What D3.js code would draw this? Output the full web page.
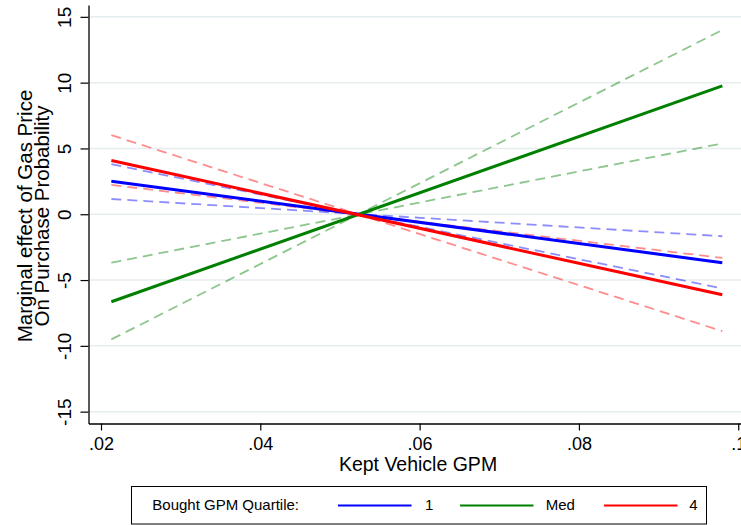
<!DOCTYPE html>
<html><head><meta charset="utf-8">
<script src="https://cdn.jsdelivr.net/npm/d3@7"></script>
<style>
body{margin:0;background:#fff}
svg{display:block}
text{font-family:"Liberation Sans",Arial,Helvetica,sans-serif;fill:#000}
</style>
</head><body>
<svg id="c" width="741" height="525"></svg>
<script>
// ---- data ----
const xValues = [0.0213, 0.098];
const seriesLabels = ["1", "Med", "4"];
const seriesColors = ["#0000ff", "#008000", "#ff0000"];
const estimate = [[2.51, -3.68], [-6.65, 9.76], [4.08, -6.12]];
const ciBoundA = [[3.80, -5.63], [-9.51, 14.0], [6.01, -8.88]];
const ciBoundB = [[1.16, -1.67], [-3.68, 5.38], [2.23, -3.32]];
const xTicks = [0.02, 0.04, 0.06, 0.08, 0.1];
const xTickLabels = [".02", ".04", ".06", ".08", ".1"];
const yTicks = [-15, -10, -5, 0, 5, 10, 15];
const yTickLabels = ["-15", "-10", "-5", "0", "5", "10", "15"];
const xTitle = "Kept Vehicle GPM";
const yTitleLines = ["Marginal effect of Gas Price", "On Purchase Probability"];
const legendTitle = "Bought GPM Quartile:";

// ---- drawing ----
const svg = d3.select("#c");
const x = d3.scaleLinear().domain([0.01843, 0.104]).range([88.5, 770.1]);
const y = d3.scaleLinear().domain([-15.9, 15.9]).range([423.5, 5]);

// gridlines
svg.append("g").selectAll("line").data(yTicks).join("line")
  .attr("x1", x.range()[0]).attr("x2", x.range()[1])
  .attr("y1", d => y(d)).attr("y2", d => y(d))
  .attr("stroke", "#e6edf0").attr("stroke-width", 1.5);

const line = d3.line().x((d, i) => x(xValues[i])).y(d => y(d));

// confidence bounds (dashed)
seriesLabels.forEach((s, k) => {
  [ciBoundA[k], ciBoundB[k]].forEach(vals => {
    svg.append("path").attr("d", line(vals))
      .attr("fill", "none").attr("stroke", seriesColors[k])
      .attr("stroke-opacity", 0.45).attr("stroke-width", 1.8)
      .attr("stroke-dasharray", "10,6");
  });
});
// estimates (solid)
seriesLabels.forEach((s, k) => {
  svg.append("path").attr("d", line(estimate[k]))
    .attr("fill", "none").attr("stroke", seriesColors[k])
    .attr("stroke-width", 3);
});

// x axis
const gx = svg.append("g").attr("transform", `translate(0,${y.range()[0]})`)
  .call(d3.axisBottom(x).tickValues(xTicks).tickFormat((d, i) => xTickLabels[i])
    .tickSize(7).tickSizeOuter(0));
gx.select(".domain").attr("stroke", "#000").attr("stroke-width", 1.3);
gx.selectAll(".tick line").attr("stroke", "#000").attr("stroke-width", 1.2);
gx.selectAll(".tick text").attr("y", 26.5).attr("dy", 0)
  .style("font-size", "18px").attr("font-family", null);

// y axis
const gy = svg.append("g").attr("transform", `translate(${x.range()[0]},0)`)
  .call(d3.axisLeft(y).tickValues(yTicks).tickFormat((d, i) => yTickLabels[i])
    .tickSize(8).tickSizeOuter(0));
gy.select(".domain").attr("stroke", "#000").attr("stroke-width", 1.3);
gy.selectAll(".tick line").attr("stroke", "#000").attr("stroke-width", 1.2);
gy.selectAll(".tick text").attr("x", 0).attr("y", -17.5).attr("dy", 0)
  .attr("transform", "rotate(-90)").attr("text-anchor", "middle")
  .style("font-size", "19px").attr("font-family", null);
svg.selectAll(".tick text").attr("fill", "#000");

// titles
svg.append("text").attr("x", 418).attr("y", 471).attr("text-anchor", "middle")
  .style("font-size", "19.5px").text(xTitle);
yTitleLines.forEach((t, i) => {
  svg.append("text").attr("transform", `translate(${31.7 + i * 16.8},216) rotate(-90)`)
    .attr("text-anchor", "middle").style("font-size", "20.5px").text(t);
});

// legend
const lg = svg.append("g");
lg.append("rect").attr("x", 131.5).attr("y", 486.5).attr("width", 575).attr("height", 37.5)
  .attr("fill", "#fff").attr("stroke", "#000").attr("stroke-width", 1);
lg.append("text").attr("x", 152.3).attr("y", 510).style("font-size", "15px").text(legendTitle);
const legX = [338, 460, 604];
const legTextX = [425, 545.7, 689.3];
seriesLabels.forEach((s, k) => {
  lg.append("line").attr("x1", legX[k]).attr("x2", legX[k] + 73.5)
    .attr("y1", 505.5).attr("y2", 505.5)
    .attr("stroke", seriesColors[k]).attr("stroke-width", 2.2);
  lg.append("text").attr("x", legTextX[k]).attr("y", 510).style("font-size", "15px").text(s);
});
</script>
</body></html>
